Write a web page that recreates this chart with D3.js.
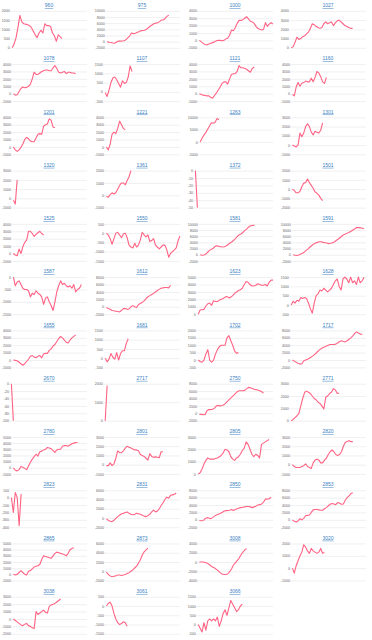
<!DOCTYPE html>
<html><head><meta charset="utf-8">
<script src="https://cdn.jsdelivr.net/npm/d3@7"></script>
<style>html,body{margin:0;padding:0;background:#fff;} svg{display:block;}</style>
</head><body>
<svg id="chart" width="372" height="640"></svg>
<script>
const titles = ["960","975","1000","1027","1078","1107","1121","1160","1201","1221","1263","1301",
  "1320","1361","1372","1501","1525","1550","1581","1591","1587","1612","1623","1628",
  "1655","1681","1702","1717","2670","2717","2750","2771","2780","2801","2805","2820",
  "2823","2831","2850","2853","2865","2873","3008","3020","3038","3061","3066"];

const s960 = [0,200,550,1100,1750,1400,1300,1280,1250,1200,1100,900,700,550,800,950,800,1300,1200,1200,1150,800,650,350,700,600,500];
const s975 = [0,-200,-300,-450,-500,-100,200,150,200,300,600,1200,1800,2800,2600,2700,3000,3200,3500,3600,3700,4000,4500,5000,5400,5800,6000,6100,6500,7000,7000,7500,8200,8600];
const s1000 = [0,-200,-400,-550,-600,-500,-400,-300,-200,-50,0,0,-50,0,200,300,700,1400,1300,1700,2300,2700,2700,2800,3000,3200,2900,2600,2500,2300,1900,1600,1500,1400,1500,2400,1900,2200,2400,2200];
const s1027 = [0,100,600,1150,900,1000,1200,1300,1500,1700,2100,2600,2500,2300,2200,2100,2200,2600,2800,2600,2700,2800,2400,2700,2900,3000,2800,2600,2400,2300,2200,2100,2100];
const s1078 = [0,-200,-150,300,700,900,800,850,1000,1300,2000,2900,2600,2600,2800,3000,3100,3200,3200,3100,3100,3500,3800,3400,2900,2800,2900,3000,2700,2900,2900,2800,2800,2700];
const s1107 = [-50,-250,100,500,750,800,650,450,250,600,450,500,800,1400,1100];
const s1121 = [0,-100,-200,-250,-300,-300,-500,-600,-250,100,500,900,1400,1600,1600,1300,2000,2600,2700,2700,3000,3800,3500,3500,3400,3300,3100,2900,3400,3600];
const s1160 = [-100,-300,900,1500,1000,1400,1500,1700,1600,1600,2100,1600,2200,3000,2800,2300,1600,1400,2200];
const s1201 = [0,-400,-600,-400,-50,400,1000,1300,1100,800,700,700,1200,1700,1800,1700,2800,3000,3100,3800,3600,2700,2600];
const s1221 = [0,-400,400,1700,2000,1800,2500,3500,3000,2500,2300];
const s1263 = [0,1500,2800,3800,5200,6500,7800,7600,8000,9500,9000];
const s1301 = [0,-100,-200,0,1300,900,1300,2000,2300,2000,1400,1100,1500,1400,1300,1600,2400];
const s1320 = [-200,-600,2000];
const s1361 = [-100,-150,50,200,100,200,500,800,1000,1000,850,1200,1500,2000];
const s1372 = [0,-50];
const s1501 = [0,-150,-400,-400,-250,250,650,700,1100,700,400,100,-300,-450,-650,-1000,-1250];
const s1525 = [0,-200,-300,600,0,900,1500,1800,3000,3000,2700,2300,2600,2800,3000,2700,2500];
const s1550 = [0,-100,-300,-600,-300,0,50,-100,-250,-50,0,-250,-650,-750,-800,-550,-750,-650,-350,50,-100,-200,-100,-450,-400,-300,-650,-750,-850,-750,-650,-650,-900,-1300,-1100,-1000,-900,-800,-400,-150];
const s1581 = [0,-200,-100,200,800,1400,1800,2100,2700,2900,2700,2600,2500,2600,2900,3300,3800,4200,4700,5300,6000,6500,6800,7300,7900,8400,9000,9400,9500,9500];
const s1591 = [0,-150,-250,-100,200,500,900,1400,1900,2500,3000,3500,3800,4000,4200,4200,4000,3900,3800,3600,3700,3900,4100,4600,5000,5500,6000,6500,6700,7000,7300,7600,8000,8400,8800,8800,8700,8600,8500];
const s1587 = [0,-350,-200,-150,-300,-450,-500,-500,-550,-800,-650,-700,-550,-650,-700,-800,-1100,-850,-800,-1000,-1150,-1350,-1000,-600,-350,-150,-300,-250,-350,-400,-350,-450,-300,-600,-500,-450,-300];
const s1612 = [-200,-500,-700,-1000,-1100,-1200,-1300,-1400,-1000,-500,-500,-700,-600,0,300,0,-200,600,900,1200,1600,2200,2700,3000,3300,3600,4000,4400,4700,5000,5100,5200,5200,5100,5800];
const s1623 = [0,550,600,650,1100,1400,1500,1200,1800,1700,1700,1900,2000,2100,2300,2400,2200,2300,2500,2800,3000,3200,3300,3500,4000,4400,4300,4000,3800,3800,3900,4100,4000,3900,3900,4000,3800,4300,4600,4600];
const s1628 = [0,200,100,250,200,400,350,400,350,100,-200,-450,100,500,600,800,750,900,800,700,800,900,1100,1300,1400,1000,800,1400,1500,1400,1200,1500,1200,1300,1100,1500,1200,1300,1500];
const s1655 = [0,-50,-100,-300,-500,-700,-500,-200,100,500,600,400,300,500,600,300,800,900,900,1300,1500,1900,2100,2500,2900,3200,3000,2700,2400,2300,2700,3000,3200,3400];
const s1681 = [0,-200,-50,250,50,-50,300,-100,250,400,400,800,1050];
const s1702 = [0,-100,-150,0,400,700,0,-150,0,400,700,900,1000,1000,1000,1500,1650,1300,1000,600,450,500];
const s1717 = [0,-300,-600,-900,-1100,-1000,-200,0,200,500,800,1200,1600,2100,2600,3000,3300,3500,3800,4000,4200,4200,4200,4300,4600,5000,5200,5000,4900,5200,5600,6000,6500,7200,7600,7300,7000,6900];
const s2670 = [0,-100];
const s2717 = [0,1900];
const s2750 = [-300,-300,-400,-300,700,1000,1000,1100,1400,2000,2100,2000,2100,2300,2800,3300,3800,4300,4800,5300,5800,6100,6100,6100,6200,6600,7000,6900,6700,6500,6400,6300,6100,5800,5500];
const s2771 = [0,100,250,400,600,1200,1800,2300,2400,2300,2200,2000,1800,1700,1500,1400,1200,950,1900,2000,2200,2300,2600,2500,2200,2250];
const s2780 = [0,-400,-500,-300,200,100,-100,-300,300,900,1400,1800,2200,1900,2600,2700,2900,3000,3300,3200,3100,2800,2500,2900,3000,3000,3500,3600,3600,3500,3700,3900,4000,4100,4100];
const s2801 = [-100,-100,200,-100,100,700,1500,1300,1300,1500,1800,2000,1900,1800,1700,1600,1600,1500,1100,1000,900,700,500,1200,900,800,850,800,750,1400,1400];
const s2805 = [0,100,400,800,1100,1300,1200,1200,1200,1250,1300,1400,1500,1700,2000,1950,1800,1400,1200,1100,1300,1400,1600,1900,2100,2600,2400,2000,1600,1400,1600,1500,1300,2400,2500,2600,2700,2800];
const s2820 = [0,-200,-300,-300,-300,-200,-100,100,-200,-300,-400,200,500,600,500,200,200,500,700,1100,1400,1600,1400,1100,1000,1100,1400,2000,2400,2500,2600,2500,2500];
const s2823 = [0,-200,70,0,-380,50];
const s2831 = [-200,-500,-700,-800,-500,-100,300,600,900,1000,1200,1300,1000,800,700,800,1000,900,800,600,400,300,500,800,1300,1700,1300,1500,2000,2700,3300,4000,4500,4300,4900,5000,5100,5400];
const s2850 = [-200,-250,-200,300,600,500,300,600,1000,1300,1500,1700,2000,2300,2500,2500,2600,2800,2500,2800,3000,3200,3300,3400,3500,3600,3600,3500,3300,3500,3700,4000,4100,4300,4800,5600,5600,5700,6100];
const s2853 = [0,-400,-600,-300,300,0,400,1100,1200,1300,2000,2700,2800,2800,2700,2600,2600,3000,3300,3800,4200,4400,4300,4100,4700,4500,4200,4300,5300,6000,6500,7100,7300];
const s2865 = [0,-100,0,300,600,300,0,-100,500,600,900,1200,1300,1400,1600,2400,3000,2900,2800,2700,2600,3000,3400,3600,3500,3400,3300,3200,3000,3400,4000,4200,4300];
const s2873 = [-200,-700,-1000,-1200,-1100,-1000,-800,-800,-900,-800,-700,-500,-300,0,300,700,1100,1800,2500,3500,4200,4600,5000];
const s3008 = [0,0,0,-100,-200,-500,-800,-1100,-1300,-1600,-1900,-2300,-2600,-2700,-2700,-2600,-2100,-1500,-700,-200,300,800,1500,2100,2600,2900];
const s3020 = [0,-400,200,600,1000,1300,1900,1700,1400,1200,1600,1400,1300,1200,1300,1600,1200,1300];
const s3038 = [0,-200,-400,-600,-800,-900,-700,-600,-900,-1000,-1200,-1300,1000,600,800,1000,1200,900,800,1700,1900,2000,2100,2300,2500,2700];
const s3061 = [0,150,200,0,-400,-700,-900,-1000,-950,-850,-900,-1100];
const s3066 = [0,-200,-400,100,-300,200,300,200,300,200,400,-100,200,600,800,500,900,1300,1100,900,700,800,1000,1100];

const series = [s960,s975,s1000,s1027,s1078,s1107,s1121,s1160,s1201,s1221,s1263,s1301,
  s1320,s1361,s1372,s1501,s1525,s1550,s1581,s1591,s1587,s1612,s1623,s1628,
  s1655,s1681,s1702,s1717,s2670,s2717,s2750,s2771,s2780,s2801,s2805,s2820,
  s2823,s2831,s2850,s2853,s2865,s2873,s3008,s3020,s3038,s3061,s3066];

// y tick labels per panel: [min, max, step]
const yTickSpec = [[0,2000,500],[-2000,10000,2000],[-1000,4000,1000],[0,4000,1000],
  [-1000,4000,1000],[-500,1500,500],[-1000,4000,1000],[-1000,4000,1000],
  [-1000,4000,1000],[-1000,4000,1000],[-5000,10000,5000],[-1000,3000,1000],
  [-1000,3000,1000],[-1000,2000,1000],[-50,0,10],[-2000,2000,1000],
  [-1000,4000,1000],[-1500,500,500],[-2000,10000,2000],[-2000,10000,2000],
  [-1500,0,500],[-2000,8000,2000],[0,5000,1000],[-500,1500,500],
  [-1000,4000,1000],[-500,1500,500],[-500,2000,500],[-2000,8000,2000],
  [-100,0,20],[0,2000,1000],[-2000,8000,2000],[0,3000,1000],
  [-1000,5000,1000],[-1000,3000,1000],[0,3000,1000],[-1000,3000,1000],
  [-400,100,100],[-2000,6000,2000],[-2000,8000,2000],[-2000,8000,2000],
  [-1000,5000,1000],[-2000,6000,2000],[-4000,4000,2000],[-1000,2000,1000],
  [-2000,3000,1000],[-1500,500,500],[-500,1500,500]];

const X_SLOTS = 40;

const COLS = 4, CELL_W = 93, CELL_H = 53.27;
const TICK_FONT = 3.6, TITLE_FONT = 5;
const FONT = "'Liberation Sans', Arial, sans-serif";
const svg = d3.select("#chart");

// measurement helper
const meas = svg.append("text").attr("font-size", TICK_FONT).attr("font-family", FONT);
function textW(s) { meas.text(s); return meas.node().getComputedTextLength(); }

titles.forEach((title, i) => {
  const c = i % COLS, r = Math.floor(i / COLS);
  const px = c * CELL_W, py = r * CELL_H;
  const [mn, mx, st] = yTickSpec[i];
  const ticks = d3.range(mn, mx + st / 2, st);
  const maxW = d3.max(ticks, t => textW(String(t)));
  const plotLeft = px + 1.7 + maxW + 2.5;
  const plotRight = px + 87;
  const y = d3.scaleLinear().domain([mn, mx]).range([py + 47.8, py + 10.8]);
  const x = d3.scaleLinear().domain([0, X_SLOTS - 1]).range([plotLeft, plotRight]);

  const g = svg.append("g");
  const axis = d3.axisLeft(y).tickValues(ticks).tickFormat(d => String(d))
    .tickSizeInner(-(plotRight - plotLeft)).tickSizeOuter(0).tickPadding(2.5);
  const ag = g.append("g").attr("transform", `translate(${plotLeft},0)`).call(axis);
  ag.select(".domain").remove();
  ag.selectAll(".tick line").attr("stroke", "#e6e6e6").attr("stroke-width", 0.6).attr("x1", -2);
  ag.selectAll(".tick text").attr("font-size", TICK_FONT).attr("font-family", FONT).attr("fill", "#666");

  g.append("path")
    .datum(series[i])
    .attr("fill", "none")
    .attr("stroke", "rgb(255,99,132)")
    .attr("stroke-width", 1.1)
    .attr("stroke-linejoin", "round")
    .attr("d", d3.line().x((d, k) => x(k)).y(d => y(d)));

  g.append("text")
    .attr("x", px + 49).attr("y", py + 7)
    .attr("text-anchor", "middle")
    .attr("font-size", TITLE_FONT).attr("font-family", FONT)
    .attr("fill", "#3a7fc2")
    .attr("text-decoration", "underline")
    .text(title);
});
meas.remove();
</script>
</body></html>
